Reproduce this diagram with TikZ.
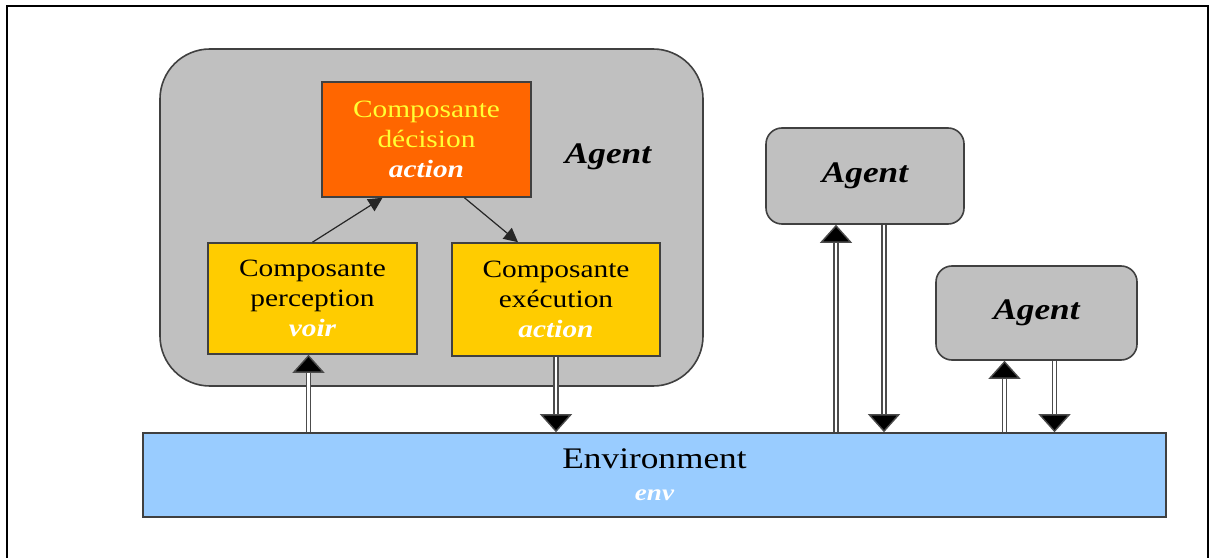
\documentclass[tikz,border=0pt]{standalone}
\usepackage{fontspec}
\setmainfont{Liberation Serif}[FakeStretch=1.18]
\usetikzlibrary{arrows.meta,calc}
\definecolor{agentgray}{HTML}{C0C0C0}
\definecolor{decorange}{HTML}{FF6600}
\definecolor{compyellow}{HTML}{FFCC00}
\definecolor{envblue}{HTML}{99CCFF}
\definecolor{bordergray}{HTML}{404040}
\definecolor{dectext}{HTML}{FFFF33}
\tikzset{
  agentbox/.style={draw=bordergray, line width=0.8bp, fill=agentgray, rounded corners=8bp, inner sep=0pt},
  compbox/.style={draw=bordergray, line width=0.8bp, fill=compyellow, inner sep=0pt, align=center,
     font=\fontsize{12.5}{15}\selectfont},
  agentlabel/.style={font=\fontsize{15}{18}\selectfont\bfseries\itshape},
  dbl/.style={draw=black!70, line width=0.7bp, double=white, double distance=1.2bp,
     -{Triangle[width=16bp,length=9bp,fill=black]}},
  thin/.style={draw=black!85, line width=0.6bp, -{Triangle[width=7bp,length=7bp]}},
}
\begin{document}
\begin{tikzpicture}[x=0.5bp,y=-0.5bp]
\useasboundingbox (0,0) rectangle (1210,558);
% outer frame
\draw[line width=1bp] (7,558) -- (7,6) -- (1208,6) -- (1208,558);
% big agent
\node[agentbox, rounded corners=25bp, minimum width=271.5bp, minimum height=168.5bp] (big) at (431.5,217.5) {};
\node[agentlabel] (biglab) at (608,157) {Agent};
% components
\node[compbox, fill=decorange, text=dectext, minimum width=104.5bp, minimum height=57.5bp] (dec) at (426.5,139.5)
  {Composante\\décision\\{\color{white}\bfseries\itshape action}};
\node[compbox, minimum width=104.5bp, minimum height=55.5bp] (perc) at (312.5,298.5)
  {Composante\\perception\\{\color{white}\bfseries\itshape voir}};
\node[compbox, minimum width=104bp, minimum height=56.5bp] (exec) at (556,299.5)
  {Composante\\exécution\\{\color{white}\bfseries\itshape action}};
% other agents
\node[agentbox, minimum width=99bp, minimum height=48bp, agentlabel] (a2) at (865,176) {Agent};
\node[agentbox, minimum width=100.5bp, minimum height=47bp, agentlabel] (a3) at (1036.5,313) {Agent};
% environment
\node[draw=bordergray, line width=0.8bp, fill=envblue, minimum width=511.5bp, minimum height=42bp, inner sep=0pt, align=center] (env) at (654.5,475)
  {{\fontsize{15}{18}\selectfont Environment}\\[4bp]{\fontsize{11.5}{13}\selectfont\bfseries\itshape\color{white} env}};
% internal arrows
\draw[thin] (perc.north) -- ($(dec.south)+(-44,0)$);
\draw[thin] ($(dec.south)+(38,0)$) -- ($(exec.north)+(-38,0)$);
% environment arrows
\draw[dbl] ($(env.north -| perc.south)+(-4,0)$) -- ($(perc.south)+(-4,0)$);
\draw[dbl] (exec.south) -- (env.north -| exec.south);
\draw[dbl] ($(env.north -| a2.south)+(-29,0)$) -- ($(a2.south)+(-29,0)$);
\draw[dbl] ($(a2.south)+(19,0)$) -- ($(env.north -| a2.south)+(19,0)$);
\draw[dbl] ($(env.north -| a3.south)+(-32,0)$) -- ($(a3.south)+(-32,0)$);
\draw[dbl] ($(a3.south)+(18,0)$) -- ($(env.north -| a3.south)+(18,0)$);
\end{tikzpicture}
\end{document}
